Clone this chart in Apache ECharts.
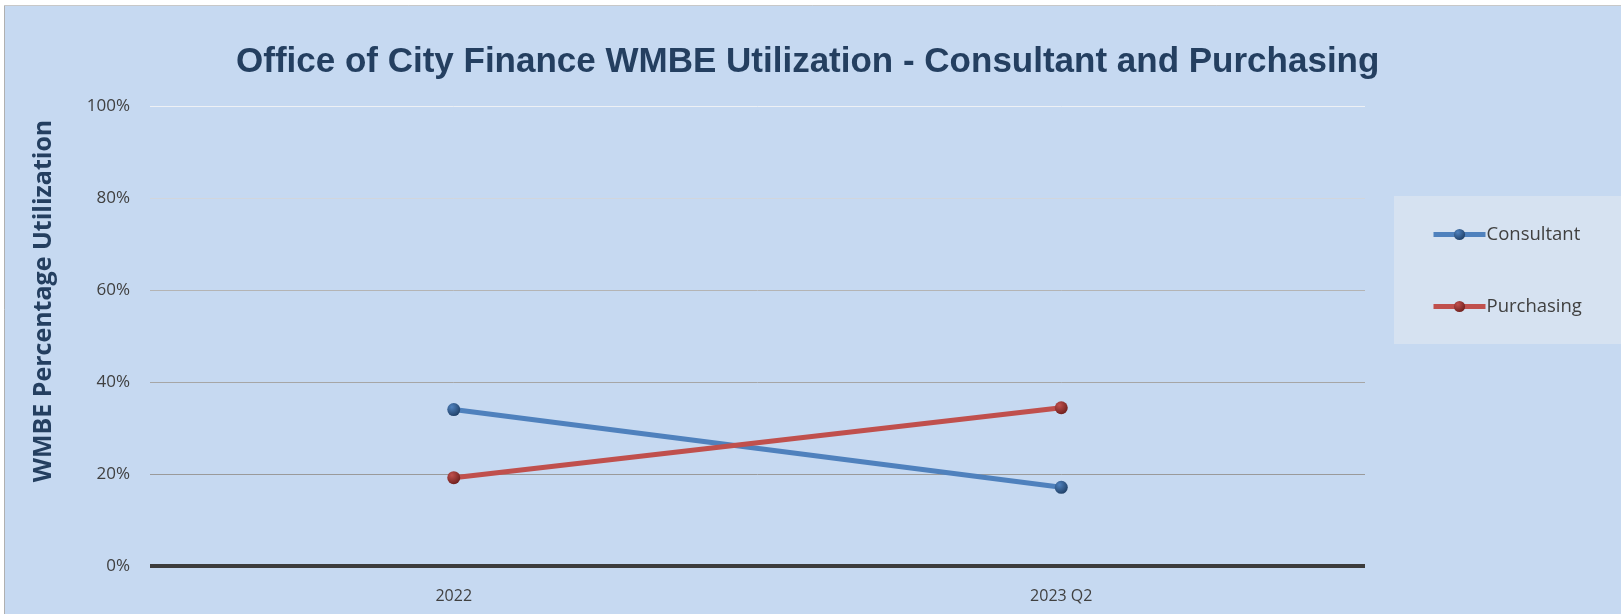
<!DOCTYPE html>
<html>
<head>
<meta charset="utf-8">
<script src="https://cdn.jsdelivr.net/npm/echarts@6/dist/echarts.min.js"></script>
<style>
  html, body { margin: 0; padding: 0; background: #fff; }
  #main { width: 1621px; height: 614px; }
</style>
</head>
<body>
<div id="main"></div>
<script>
// categories and values (percent)
var categories = ['2022', '2023 Q2'];
var consultant = [34.0, 17.1];
var purchasing = [19.2, 34.4];
var seriesNames = ['Consultant', 'Purchasing'];

function ball(base, dark) {
    return {
        type: 'radial', x: 0.35, y: 0.3, r: 0.75,
        colorStops: [{ offset: 0, color: base }, { offset: 1, color: dark }]
    };
}

var myChart = echarts.init(document.getElementById('main'));
myChart.setOption({
    backgroundColor: '#c6d9f1',
    animation: false,
    title: {
        text: 'Office of City Finance WMBE Utilization - Consultant and Purchasing',
        left: 231, top: 40,
        textStyle: { fontFamily: 'Liberation Sans', fontWeight: 'bold', fontSize: 35, color: '#243f60' }
    },
    graphic: [
        { type: 'rect', shape: { x: 0, y: 0, width: 1621, height: 5 }, style: { fill: '#ffffff' }, silent: true },
        { type: 'rect', shape: { x: 0, y: 0, width: 4, height: 614 }, style: { fill: '#ffffff' }, silent: true },
        { type: 'line', shape: { x1: 4.5, y1: 5, x2: 4.5, y2: 614 }, style: { stroke: '#b0b0b0', lineWidth: 1 }, silent: true },
        { type: 'line', shape: { x1: 4, y1: 5.5, x2: 1621, y2: 5.5 }, style: { stroke: '#c8c8c8', lineWidth: 1 }, silent: true },
        { type: 'rect', z: -1, shape: { x: 1394, y: 196, width: 227, height: 148 }, style: { fill: '#d6e2f1' }, silent: true }
    ],
    legend: {
        data: seriesNames,
        orient: 'vertical',
        left: 1426, top: 220,
        itemWidth: 52, itemHeight: 14, itemGap: 53,
        lineStyle: { width: 5 },
        textStyle: { fontFamily: 'Open Sans', fontSize: 18.5, color: '#404040', padding: [0, 0, 0, -4] }
    },
    grid: { left: 150, right: 256, top: 106, bottom: 48 },
    xAxis: {
        type: 'category',
        data: categories,
        axisLine: { lineStyle: { color: '#3c3c3c', width: 4, cap: 'butt' } },
        axisTick: { show: false },
        axisLabel: { fontFamily: 'Open Sans', fontSize: 16, color: '#404040', margin: 22 }
    },
    yAxis: {
        type: 'value',
        min: 0, max: 100, interval: 20,
        name: 'WMBE Percentage Utilization',
        nameLocation: 'middle',
        nameGap: 94,
        nameTextStyle: { fontFamily: 'Open Sans', fontWeight: 'bold', fontSize: 25, color: '#243f60', padding: [0, 0, 0, 70] },
        axisLine: { show: false },
        axisTick: { show: false },
        axisLabel: { formatter: '{value}%', fontFamily: 'Open Sans', fontSize: 17, color: '#404040', margin: 20 },
        splitLine: { lineStyle: { color: ['#999999', '#9a9a9a', '#a6a6a6', '#b4b4b4', '#d2d6dc', '#eef1f5'], width: 1 } }
    },
    series: [
        {
            name: 'Consultant', type: 'line', data: consultant,
            symbol: 'circle', symbolSize: 13,
            lineStyle: { color: '#4f81bd', width: 5 },
            itemStyle: { color: ball('#4f81bd', '#1f3f66') }
        },
        {
            name: 'Purchasing', type: 'line', data: purchasing,
            symbol: 'circle', symbolSize: 13,
            lineStyle: { color: '#c0504d', width: 5 },
            itemStyle: { color: ball('#c0504d', '#6e1f1d') }
        }
    ]
});
</script>
</body>
</html>
